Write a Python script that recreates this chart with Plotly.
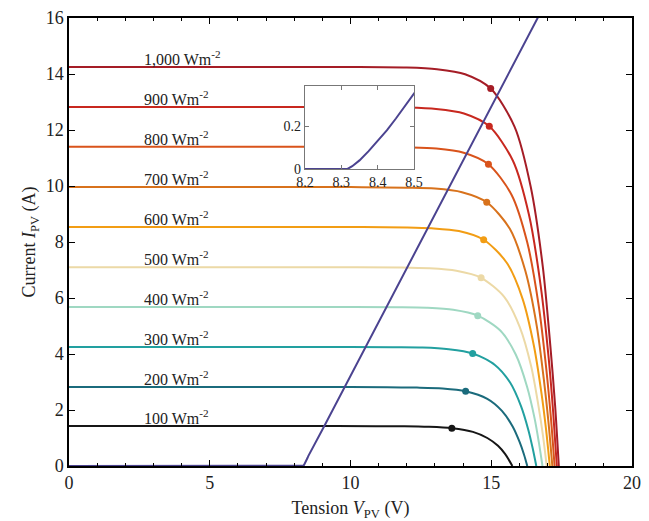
import plotly.graph_objects as go

# Irradiance levels (W/m^2)
irradiance = [1000, 900, 800, 700, 600, 500, 400, 300, 200, 100]
labels = ["1,000 Wm<sup>-2</sup>", "900 Wm<sup>-2</sup>", "800 Wm<sup>-2</sup>", "700 Wm<sup>-2</sup>",
          "600 Wm<sup>-2</sup>", "500 Wm<sup>-2</sup>", "400 Wm<sup>-2</sup>", "300 Wm<sup>-2</sup>",
          "200 Wm<sup>-2</sup>", "100 Wm<sup>-2</sup>"]
colors = ["#a51d26", "#c8281f", "#d9531b", "#d8721c", "#f29d14",
          "#ecd9a6", "#9fd8c2", "#22a0a0", "#1b6b7c", "#161616"]

# I-V curves (V in volts, I in amperes)
V_1000 = [0, 10, 12, 13.07, 14.07, 14.98, 15.83, 16.40, 16.83, 17.10, 17.27, 17.40]
I_1000 = [14.25, 14.25, 14.23, 14.17, 13.99, 13.48, 12.11, 9.98, 7.13, 4.28, 2.14, 0]
V_900 = [0, 10, 12, 13.04, 14.03, 14.93, 15.77, 16.34, 16.76, 17.04, 17.20, 17.33]
I_900 = [12.82, 12.82, 12.80, 12.75, 12.59, 12.13, 10.90, 8.97, 6.41, 3.85, 1.92, 0]
V_800 = [0, 10, 12, 13.05, 14.02, 14.90, 15.72, 16.28, 16.69, 16.96, 17.12, 17.25]
I_800 = [11.40, 11.40, 11.38, 11.34, 11.19, 10.78, 9.69, 7.98, 5.70, 3.42, 1.71, 0]
V_700 = [0, 10, 12, 13.00, 13.96, 14.84, 15.66, 16.21, 16.62, 16.88, 17.04, 17.17]
I_700 = [9.96, 9.96, 9.94, 9.91, 9.78, 9.42, 8.47, 6.97, 4.98, 2.99, 1.49, 0]
V_600 = [0, 10, 12, 12.88, 13.85, 14.73, 15.55, 16.11, 16.52, 16.79, 16.95, 17.08]
I_600 = [8.54, 8.54, 8.52, 8.49, 8.39, 8.08, 7.26, 5.98, 4.27, 2.56, 1.28, 0]
V_500 = [0, 10, 11.8, 12.80, 13.76, 14.64, 15.46, 16.01, 16.42, 16.68, 16.84, 16.97]
I_500 = [7.10, 7.10, 7.09, 7.06, 6.97, 6.72, 6.04, 4.97, 3.55, 2.13, 1.07, 0]
V_400 = [0, 10, 11.7, 12.71, 13.65, 14.52, 15.33, 15.87, 16.27, 16.54, 16.69, 16.82]
I_400 = [5.68, 5.68, 5.67, 5.65, 5.58, 5.37, 4.83, 3.98, 2.84, 1.70, 0.85, 0]
V_300 = [0, 10, 11.5, 12.56, 13.49, 14.34, 15.13, 15.67, 16.06, 16.32, 16.47, 16.60]
I_300 = [4.25, 4.25, 4.24, 4.23, 4.17, 4.02, 3.61, 2.98, 2.13, 1.28, 0.64, 0]
V_200 = [0, 10, 11.3, 12.36, 13.27, 14.09, 14.86, 15.38, 15.76, 16.01, 16.16, 16.28]
I_200 = [2.82, 2.82, 2.81, 2.80, 2.77, 2.67, 2.40, 1.97, 1.41, 0.85, 0.42, 0]
V_100 = [0, 9.5, 10.9, 11.91, 12.79, 13.60, 14.35, 14.86, 15.24, 15.49, 15.63, 15.75]
I_100 = [1.43, 1.43, 1.42, 1.42, 1.40, 1.35, 1.22, 1.00, 0.72, 0.43, 0.21, 0]

curves_V = [V_1000, V_900, V_800, V_700, V_600, V_500, V_400, V_300, V_200, V_100]
curves_I = [I_1000, I_900, I_800, I_700, I_600, I_500, I_400, I_300, I_200, I_100]

# Maximum power points
V_mpp = [14.98, 14.93, 14.90, 14.84, 14.73, 14.64, 14.52, 14.34, 14.09, 13.60]
I_mpp = [13.48, 12.13, 10.78, 9.42, 8.08, 6.72, 5.37, 4.02, 2.67, 1.35]

# Load line
V_load = [0, 8.2, 8.317, 8.33, 8.35, 8.375, 8.4, 8.425, 8.45, 8.475, 8.5, 9.07, 16.7]
I_load = [0, 0, 0, 0.013, 0.04, 0.083, 0.13, 0.18, 0.235, 0.292, 0.352, 1.43, 16.1]

label_V = 2.59

serif = "Liberation Serif, Times New Roman, serif"
load_color = "#4b4390"

fig = go.Figure()
for v, i, c in zip(curves_V, curves_I, colors):
    fig.add_trace(go.Scatter(x=v, y=i, mode="lines", line=dict(color=c, width=2, shape="spline", smoothing=0.8),
                             showlegend=False, hoverinfo="skip"))
fig.add_trace(go.Scatter(x=V_load, y=I_load, mode="lines", line=dict(color=load_color, width=2),
                         showlegend=False))
fig.add_trace(go.Scatter(x=V_mpp, y=I_mpp, mode="markers",
                         marker=dict(color=colors, size=7), showlegend=False))

# inset
fig.add_trace(go.Scatter(x=V_load, y=I_load, mode="lines",
                         line=dict(color=load_color, width=2),
                         xaxis="x2", yaxis="y2", showlegend=False))

for lab, isc, c in zip(labels, [c[0] for c in curves_I], colors):
    fig.add_annotation(x=label_V, y=isc, text=lab, showarrow=False, xanchor="left", yanchor="bottom",
                       yshift=-3, font=dict(family=serif, size=16, color="#222"))

axis_common = dict(showline=True, linecolor="black", linewidth=1.5, mirror="ticks",
                   ticks="inside", tickcolor="black", ticklen=6, tickwidth=1.3,
                   showgrid=False, zeroline=False, automargin=False,
                   tickfont=dict(family=serif, size=18, color="#222"))

fig.update_layout(
    width=649, height=521,
    margin=dict(l=69, r=17, t=18, b=55),
    paper_bgcolor="white", plot_bgcolor="white",
    xaxis=dict(range=[0, 20], tickvals=[0, 5, 10, 15, 20],
               minor=dict(dtick=1, ticklen=3, ticks="inside", tickcolor="black", tickwidth=1.2),
               title=dict(text="Tension <i>V</i><sub>PV</sub> (V)", font=dict(family=serif, size=18, color="#222"),
                          standoff=11),
               **axis_common),
    yaxis=dict(range=[0, 16], tickvals=[0, 2, 4, 6, 8, 10, 12, 14, 16],
               title=dict(text="Current <i>I</i><sub>PV</sub> (A)", font=dict(family=serif, size=18, color="#222"),
                          standoff=5),
               **axis_common),
    xaxis2=dict(domain=[0.419, 0.613], anchor="y2", range=[8.2, 8.5], tickvals=[8.2, 8.3, 8.4, 8.5],
                showline=True, linecolor="#777", linewidth=1, mirror="ticks", ticks="inside",
                tickcolor="#777", ticklen=4, showgrid=False, zeroline=False, automargin=False,
                tickfont=dict(family=serif, size=14, color="#222")),
    yaxis2=dict(domain=[0.663, 0.848], anchor="x2", range=[0, 0.386], tickvals=[0, 0.2],
                showline=True, linecolor="#777", linewidth=1, mirror="ticks", ticks="inside",
                tickcolor="#777", ticklen=4, showgrid=False, zeroline=False, automargin=False,
                tickfont=dict(family=serif, size=14, color="#222")),
)

fig.write_html("out.html", config={"displayModeBar": False},
               post_script="document.body.style.margin='0';")
